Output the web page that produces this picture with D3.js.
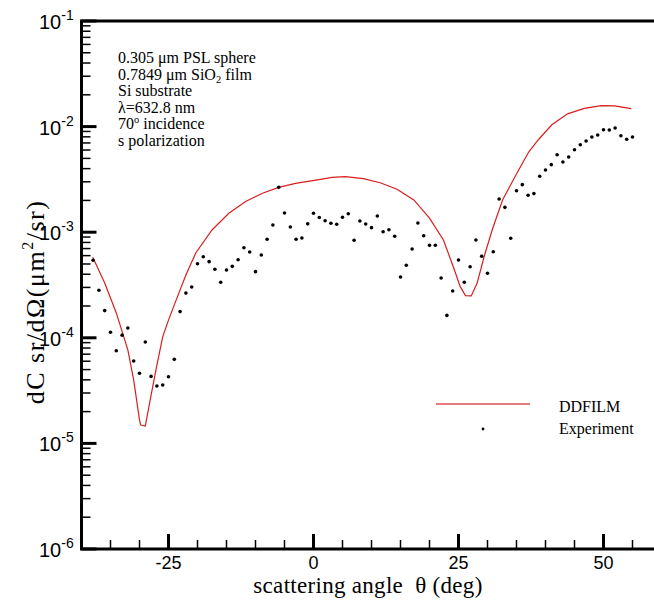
<!DOCTYPE html>
<html>
<head>
<meta charset="utf-8">
<script src="https://cdnjs.cloudflare.com/ajax/libs/d3/7.8.5/d3.min.js"></script>
<style>
  body { margin: 0; background: #fff; }
  svg { display: block; }
  .serif { font-family: "Liberation Serif", "Times New Roman", serif; fill: #000; }
  .sans { font-family: "Liberation Sans", Arial, sans-serif; fill: #000; }
</style>
</head>
<body>
<svg width="654" height="600"></svg>
<script>
// DDFILM model curve
var curveTheta = [-38.05, -36, -34, -32, -31, -30, -29.8, -29, -28, -27, -26, -25, -24, -22, -20.3, -17.5, -14.6, -11.7, -8.8, -6, -3.1, 1.2, 3.2, 5.5, 8.6, 11.5, 14.4, 17.3, 20, 22.4, 24.1, 25.3, 26.2, 27.2, 28.2, 29.5, 30.9, 32.6, 34.9, 37.1, 38.8, 41.1, 43.8, 46.7, 49.6, 51.9, 54.8];
var curveValue = [5.78e-4, 3.30e-4, 1.72e-4, 7.66e-5, 3.98e-5, 1.67e-5, 1.49e-5, 1.46e-5, 2.87e-5, 5.52e-5, 1.02e-4, 1.47e-4, 2.05e-4, 3.94e-4, 6.35e-4, 1.05e-3, 1.51e-3, 1.95e-3, 2.34e-3, 2.66e-3, 2.90e-3, 3.17e-3, 3.31e-3, 3.36e-3, 3.21e-3, 2.94e-3, 2.55e-3, 2.02e-3, 1.36e-3, 8.43e-4, 4.71e-4, 3.05e-4, 2.51e-4, 2.49e-4, 3.28e-4, 6.08e-4, 1.09e-3, 2.02e-3, 3.48e-3, 5.74e-3, 7.55e-3, 1.04e-2, 1.32e-2, 1.49e-2, 1.58e-2, 1.57e-2, 1.48e-2];

// experiment, one point per degree from -38 to 55
var expTheta = d3.range(-38, 56);
var expValue = [5.42e-4, 2.82e-4, 1.81e-4, 1.13e-4, 7.55e-5, 1.06e-4, 1.24e-4, 6.03e-5, 4.61e-5, 9.12e-5,
  4.31e-5, 3.50e-5, 3.57e-5, 4.28e-5, 6.25e-5, 1.77e-4, 2.65e-4, 3.03e-4, 5.03e-4, 5.85e-4,
  5.26e-4, 4.46e-4, 3.36e-4, 4.39e-4, 4.75e-4, 5.49e-4, 7.13e-4, 6.49e-4, 4.23e-4, 6.08e-4,
  8.57e-4, 1.17e-3, 2.66e-3, 1.52e-3, 1.12e-3, 8.57e-4, 8.81e-4, 1.20e-3, 1.51e-3, 1.38e-3,
  1.285e-3, 1.214e-3, 1.188e-3, 1.384e-3, 1.497e-3, 8.38e-4, 1.276e-3, 1.196e-3, 1.104e-3, 1.422e-3,
  1.011e-3, 1.056e-3, 9.14e-4, 3.77e-4, 4.86e-4, 6.93e-4, 1.222e-3, 9.27e-4, 7.51e-4, 7.53e-4,
  3.68e-4, 1.63e-4, 2.77e-4, 5.46e-4, 3.36e-4, 4.71e-4, 8.43e-4, 5.91e-4, 4.08e-4, 6.53e-4,
  2.06e-3, 1.72e-3, 8.75e-4, 2.47e-3, 2.82e-3, 2.24e-3, 2.32e-3, 3.39e-3, 3.88e-3, 4.36e-3,
  5.42e-3, 4.62e-3, 5.15e-3, 6.04e-3, 6.74e-3, 7.31e-3, 7.98e-3, 8.33e-3, 9.35e-3, 9.29e-3,
  9.70e-3, 8.20e-3, 7.59e-3, 7.98e-3];

var xMajor = [-25, 0, 25, 50];
var yExponents = [-1, -2, -3, -4, -5, -6];

var notes = ["0.305 \u03bcm PSL sphere", "0.7849 \u03bcm SiO|2| film", "Si substrate", "\u03bb=632.8 nm", "70^o^ incidence", "s polarization"];

var svg = d3.select("svg"),
    width = +svg.attr("width"),
    height = +svg.attr("height");

var x = d3.scaleLinear().domain([-40, 60]).range([81.5, 661.5]);
var y = d3.scaleLog().domain([1e-6, 1e-1]).range([549, 21]);

var curve = curveTheta.map(function(t, i) { return [t, curveValue[i]]; });
var points = expTheta.map(function(t, i) { return [t, expValue[i]]; });

// model line
svg.append("path")
    .datum(curve)
    .attr("fill", "none")
    .attr("stroke", "#d81e1e")
    .attr("stroke-width", 1.2)
    .attr("d", d3.line()
        .x(function(d) { return x(d[0]); })
        .y(function(d) { return y(d[1]); }));

// experiment dots
svg.append("g")
  .selectAll("circle")
  .data(points)
  .enter().append("circle")
    .attr("cx", function(d) { return x(d[0]); })
    .attr("cy", function(d) { return y(d[1]); })
    .attr("r", 1.8)
    .attr("fill", "#000");

// ticks, pointing inward
var x0 = x.range()[0], yb = y.range()[0], yt = y.range()[1];
var tickG = svg.append("g").attr("stroke", "#000");

var xMinor = d3.range(-35, 61, 5).filter(function(v) { return xMajor.indexOf(v) < 0; });
tickG.selectAll(".xminor").data(xMinor).enter().append("line")
    .attr("x1", x).attr("x2", x)
    .attr("y1", yb).attr("y2", yb - 9)
    .attr("stroke-width", 1.5);
tickG.selectAll(".xmajor").data(xMajor).enter().append("line")
    .attr("x1", x).attr("x2", x)
    .attr("y1", yb).attr("y2", yb - 15)
    .attr("stroke-width", 3);

var yMinor = [];
yExponents.slice(1).forEach(function(e) {
  for (var k = 2; k <= 9; k++) yMinor.push(k * Math.pow(10, e));
});
tickG.selectAll(".yminor").data(yMinor).enter().append("line")
    .attr("x1", x0).attr("x2", x0 + 9)
    .attr("y1", y).attr("y2", y)
    .attr("stroke-width", 1.5);
tickG.selectAll(".ymajor").data(yExponents).enter().append("line")
    .attr("x1", x0).attr("x2", x0 + 15)
    .attr("y1", function(e) { return y(Math.pow(10, e)); })
    .attr("y2", function(e) { return y(Math.pow(10, e)); })
    .attr("stroke-width", 3);

// frame
svg.append("path")
    .attr("d", "M" + width + "," + yt + "H" + x0 + "V" + yb + "H" + width)
    .attr("fill", "none")
    .attr("stroke", "#000")
    .attr("stroke-width", 3);

// tick labels
svg.append("g").selectAll("text")
    .data(xMajor)
    .enter().append("text")
    .attr("class", "sans")
    .attr("x", x)
    .attr("y", 569)
    .attr("text-anchor", "middle")
    .attr("font-size", 18)
    .text(function(d) { return d; });

var yl = svg.append("g").selectAll("text")
    .data(yExponents)
    .enter().append("text")
    .attr("class", "sans")
    .attr("x", 39)
    .attr("y", function(e) { return y(Math.pow(10, e)) + 8; })
    .attr("font-size", 20);
yl.append("tspan").text("10");
yl.append("tspan")
    .attr("font-size", 14)
    .attr("dy", -9)
    .text(function(e) { return e; });

// axis titles
svg.append("text")
    .attr("class", "serif")
    .attr("x", 368)
    .attr("y", 593)
    .attr("text-anchor", "middle")
    .attr("font-size", 23)
    .attr("letter-spacing", 0.3)
    .attr("xml:space", "preserve")
    .text("scattering angle  \u03b8 (deg)");

var yt2 = svg.append("text")
    .attr("class", "serif")
    .attr("transform", "translate(44,302) rotate(-90)")
    .attr("text-anchor", "middle")
    .attr("font-size", 26)
    .attr("letter-spacing", 1.5);
yt2.append("tspan").text("dC sr/d\u03a9(\u03bcm");
yt2.append("tspan").attr("font-size", 16).attr("dy", -11).text("2");
yt2.append("tspan").attr("dy", 11).text("/sr)");

// annotation block
var noteG = svg.append("g");
notes.forEach(function(s, i) {
  var t = noteG.append("text")
      .attr("class", "serif")
      .attr("x", 118)
      .attr("y", 63 + i * 16.5)
      .attr("font-size", 16);
  var m;
  if ((m = s.match(/^(.*)\|(.*)\|(.*)$/))) {
    t.append("tspan").text(m[1]);
    t.append("tspan").attr("font-size", 10.5).attr("dy", 3).text(m[2]);
    t.append("tspan").attr("dy", -3).text(m[3]);
  } else if ((m = s.match(/^(.*)\^(.*)\^(.*)$/))) {
    t.append("tspan").text(m[1]);
    t.append("tspan").attr("font-size", 10.5).attr("dy", -6).text(m[2]);
    t.append("tspan").attr("dy", 6).text(m[3]);
  } else {
    t.text(s);
  }
});

// legend
svg.append("line")
    .attr("x1", 436).attr("x2", 530)
    .attr("y1", 404).attr("y2", 404)
    .attr("stroke", "#e77a7a")
    .attr("stroke-width", 2);
svg.append("circle")
    .attr("cx", 483).attr("cy", 429)
    .attr("r", 1.4)
    .attr("fill", "#000");
svg.append("text")
    .attr("class", "serif")
    .attr("x", 559).attr("y", 412)
    .attr("font-size", 16)
    .text("DDFILM");
svg.append("text")
    .attr("class", "serif")
    .attr("x", 559).attr("y", 434)
    .attr("font-size", 16)
    .text("Experiment");
</script>
</body>
</html>
